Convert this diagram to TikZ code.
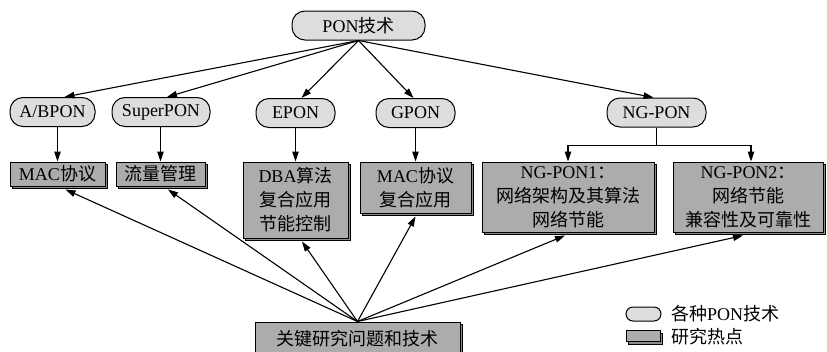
\documentclass[tikz,border=0pt]{standalone}
\usepackage{fontspec}
\setmainfont{Liberation Serif}
\newfontfamily\zhfont{Noto Sans CJK SC}
\newcommand\zh[1]{{\zhfont #1}}
\usetikzlibrary{arrows.meta,shadows,calc}
\definecolor{pillgray}{RGB}{221,221,221}
\definecolor{boxgray}{RGB}{172,172,172}
\definecolor{shadegray}{RGB}{140,140,140}

\begin{document}
\begin{tikzpicture}[x=1pt,y=-1pt,
  every node/.style={font=\fontsize{18}{24}\selectfont, inner sep=0pt, align=center},
  pill/.style={draw, line width=1pt, fill=pillgray, rounded corners=13pt, minimum height=29pt},
  hot/.style={draw, line width=1pt, fill=boxgray, minimum height=24pt,
    general shadow={shadow xshift=2.5pt, shadow yshift=-2.5pt, fill=shadegray, draw=black, line width=0.6pt}},
  arr/.style={line width=1.1pt, -{Triangle[length=10pt,width=6.5pt]}},
  ]
\useasboundingbox (0,0) rectangle (827,351);

% technology pills
\node[pill, minimum width=133pt] (pon)   at (358.5,25.5) {PON\zh{技术}};
\node[pill, minimum width=85pt]  (ab)    at (52.5,112)   {A/BPON};
\node[pill, minimum width=98pt]  (super) at (161,112)    {SuperPON};
\node[pill, minimum width=79pt]  (epon)  at (295.5,113)  {EPON};
\node[pill, minimum width=79pt]  (gpon)  at (415.5,113)  {GPON};
\node[pill, minimum width=99pt]  (ng)    at (656.5,112.5){NG-PON};

% research hot spots
\node[hot, minimum width=95pt]  (mac1) at (57.5,174)  {MAC\zh{协议}};
\node[hot, minimum width=89pt]  (flow) at (160.5,174) {\zh{流量管理}};
\node[hot, minimum width=105pt, minimum height=76pt] (dba)  at (295.5,200)   {DBA\zh{算法}\\\zh{复合应用}\\\zh{节能控制}};
\node[hot, minimum width=111pt, minimum height=51pt] (gmac) at (415.5,187.5) {MAC\zh{协议}\\\zh{复合应用}};
\node[hot, minimum width=172pt, minimum height=70pt] (ng1)  at (568,197)     {NG-PON1\zh{：}\\\zh{网络架构及其算法}\\\zh{网络节能}};
\node[hot, minimum width=150pt, minimum height=70pt] (ng2)  at (748,197)     {NG-PON2\zh{：}\\\zh{网络节能}\\\zh{兼容性及可靠性}};

% key problems
\node[hot, minimum width=205pt, minimum height=34pt] (key) at (357.5,339) {\zh{关键研究问题和技术}};

% PON technique to its variants
\draw[arr] (pon.south) -- ($(ab.north)+(12,0)$);
\draw[arr] (pon.south) -- ($(super.north)+(6,0)$);
\draw[arr] (pon.south) -- ($(epon.north)+(6,0)$);
\draw[arr] (pon.south) -- ($(gpon.north)+(-2,0)$);
\draw[arr] (pon.south) -- ($(ng.north)+(-3,0)$);

% variants to hot spots
\draw[arr] (mac1.north |- ab.south) -- (mac1.north);
\draw[arr] (flow.north |- super.south) -- (flow.north);
\draw[arr] (dba.north |- epon.south) -- (dba.north);
\draw[arr] (gmac.north |- gpon.south) -- (gmac.north);
\coordinate (split) at ($(ng.south)+(0,18)$);
\draw[line width=1.1pt] (ng.south) -- (split);
\draw[arr] (split) -| (ng1.north);
\draw[arr] (split) -| ($(ng2.north)+(3,0)$);

% key problems to hot spots
\draw[arr] (key.north) -- ($(mac1.south)+(8,3)$);
\draw[arr] (key.north) -- ($(flow.south)+(7.5,3)$);
\draw[arr] (key.north) -- ($(dba.south)+(6.5,3)$);
\draw[arr] (key.north) -- ($(gmac.south)+(0,3)$);
\draw[arr] (key.north) -- ($(ng1.south)+(-3,3)$);
\draw[arr] (key.north) -- ($(ng2.south)+(-5,3)$);

% legend
\node[pill, minimum width=35pt, minimum height=14pt, rounded corners=7pt] (lgpill) at (643.5,314) {};
\node[anchor=west] (lgpilltext) at (671,314) {\zh{各种}PON\zh{技术}};
\node[hot, minimum width=34pt, minimum height=11pt] (lgbox) at (643,336) {};
\node[anchor=west] (lgboxtext) at (671,337) {\zh{研究热点}};
\end{tikzpicture}
\end{document}
